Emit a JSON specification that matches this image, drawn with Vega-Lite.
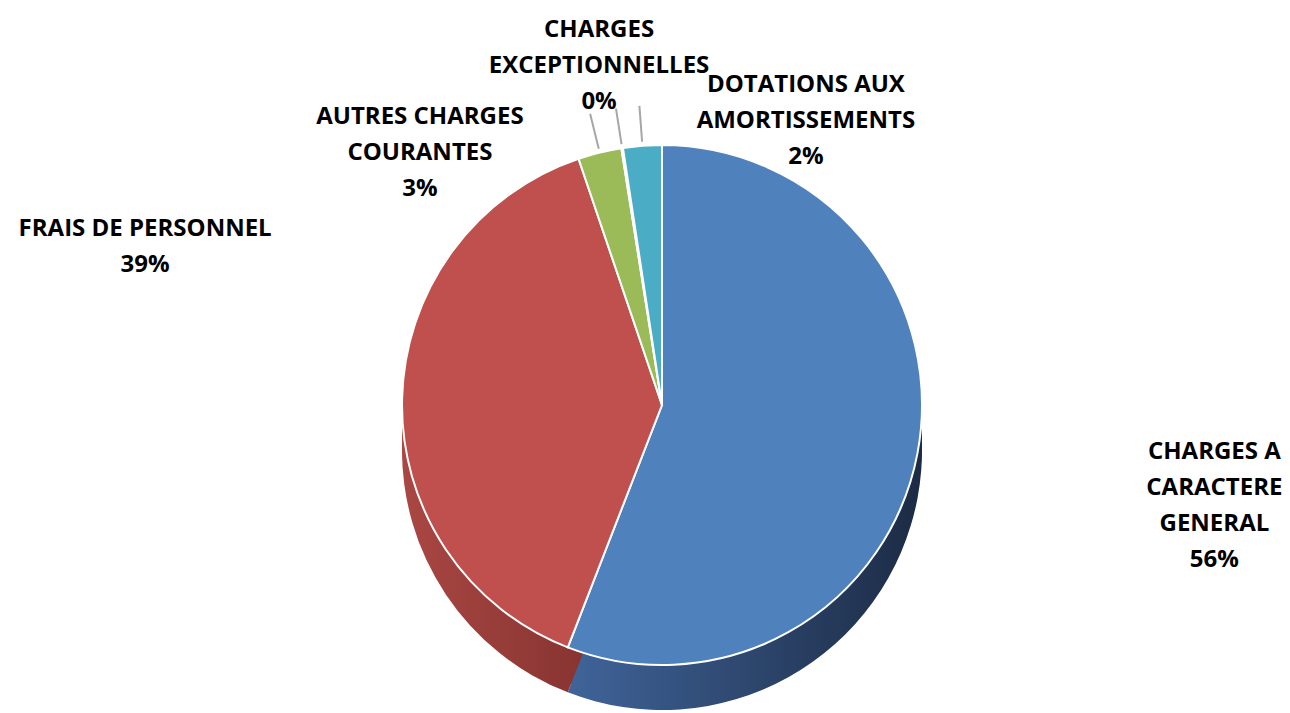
{
  "$schema": "https://vega.github.io/schema/vega-lite/v6.json",
  "width": 1256,
  "height": 616,
  "autosize": {"type": "none"},
  "padding": {"left": 34, "top": 97, "right": 0, "bottom": 0},
  "background": "white",
  "config": {"view": {"stroke": null}},
  "data": {
    "values": [
      {"categorie": "CHARGES A CARACTERE GENERAL", "label": "CHARGES A\nCARACTERE\nGENERAL\n56%", "pct": 55.9, "rank": 1},
      {"categorie": "FRAIS DE PERSONNEL", "label": "FRAIS DE PERSONNEL\n39%", "pct": 38.9, "rank": 2},
      {"categorie": "AUTRES CHARGES COURANTES", "label": "AUTRES CHARGES\nCOURANTES\n3%", "pct": 2.7, "rank": 3},
      {"categorie": "CHARGES EXCEPTIONNELLES", "label": "CHARGES\nEXCEPTIONNELLES\n0%", "pct": 0.1, "rank": 4},
      {"categorie": "DOTATIONS AUX AMORTISSEMENTS", "label": "DOTATIONS AUX\nAMORTISSEMENTS\n2%", "pct": 2.4, "rank": 5}
    ]
  },
  "transform": [
    {"stack": "pct", "groupby": [], "sort": [{"field": "rank"}], "as": ["t0", "t1"]},
    {"calculate": "(datum.t0 + datum.t1) / 2", "as": "tm"}
  ],
  "layer": [
    {
      "transform": [{"filter": "datum.rank == 1"}],
      "mark": {"type": "arc", "radius": 260, "yOffset": 45, "fill": {"gradient": "linear", "x1": 0, "y1": 0, "x2": 1, "y2": 0, "stops": [{"offset": 0, "color": "#40649A"}, {"offset": 1, "color": "#1C2B44"}]}},
      "encoding": {"theta": {"field": "t0", "type": "quantitative", "scale": {"domain": [0, 100]}}, "theta2": {"field": "t1"}}
    },
    {
      "transform": [{"filter": "datum.rank == 1"}],
      "mark": {"type": "arc", "radius": 260, "yOffset": 36, "fill": {"gradient": "linear", "x1": 0, "y1": 0, "x2": 1, "y2": 0, "stops": [{"offset": 0, "color": "#40649A"}, {"offset": 1, "color": "#1C2B44"}]}},
      "encoding": {"theta": {"field": "t0", "type": "quantitative", "scale": {"domain": [0, 100]}}, "theta2": {"field": "t1"}}
    },
    {
      "transform": [{"filter": "datum.rank == 1"}],
      "mark": {"type": "arc", "radius": 260, "yOffset": 27, "fill": {"gradient": "linear", "x1": 0, "y1": 0, "x2": 1, "y2": 0, "stops": [{"offset": 0, "color": "#40649A"}, {"offset": 1, "color": "#1C2B44"}]}},
      "encoding": {"theta": {"field": "t0", "type": "quantitative", "scale": {"domain": [0, 100]}}, "theta2": {"field": "t1"}}
    },
    {
      "transform": [{"filter": "datum.rank == 1"}],
      "mark": {"type": "arc", "radius": 260, "yOffset": 18, "fill": {"gradient": "linear", "x1": 0, "y1": 0, "x2": 1, "y2": 0, "stops": [{"offset": 0, "color": "#40649A"}, {"offset": 1, "color": "#1C2B44"}]}},
      "encoding": {"theta": {"field": "t0", "type": "quantitative", "scale": {"domain": [0, 100]}}, "theta2": {"field": "t1"}}
    },
    {
      "transform": [{"filter": "datum.rank == 1"}],
      "mark": {"type": "arc", "radius": 260, "yOffset": 9, "fill": {"gradient": "linear", "x1": 0, "y1": 0, "x2": 1, "y2": 0, "stops": [{"offset": 0, "color": "#40649A"}, {"offset": 1, "color": "#1C2B44"}]}},
      "encoding": {"theta": {"field": "t0", "type": "quantitative", "scale": {"domain": [0, 100]}}, "theta2": {"field": "t1"}}
    },
    {
      "transform": [{"filter": "datum.rank == 2"}],
      "mark": {"type": "arc", "radius": 260, "yOffset": 45, "fill": {"gradient": "linear", "x1": 0, "y1": 0, "x2": 1, "y2": 0, "stops": [{"offset": 0, "color": "#AA4743"}, {"offset": 0.7, "color": "#873431"}]}},
      "encoding": {"theta": {"field": "t0", "type": "quantitative", "scale": {"domain": [0, 100]}}, "theta2": {"field": "t1"}}
    },
    {
      "transform": [{"filter": "datum.rank == 2"}],
      "mark": {"type": "arc", "radius": 260, "yOffset": 36, "fill": {"gradient": "linear", "x1": 0, "y1": 0, "x2": 1, "y2": 0, "stops": [{"offset": 0, "color": "#AA4743"}, {"offset": 0.7, "color": "#873431"}]}},
      "encoding": {"theta": {"field": "t0", "type": "quantitative", "scale": {"domain": [0, 100]}}, "theta2": {"field": "t1"}}
    },
    {
      "transform": [{"filter": "datum.rank == 2"}],
      "mark": {"type": "arc", "radius": 260, "yOffset": 27, "fill": {"gradient": "linear", "x1": 0, "y1": 0, "x2": 1, "y2": 0, "stops": [{"offset": 0, "color": "#AA4743"}, {"offset": 0.7, "color": "#873431"}]}},
      "encoding": {"theta": {"field": "t0", "type": "quantitative", "scale": {"domain": [0, 100]}}, "theta2": {"field": "t1"}}
    },
    {
      "transform": [{"filter": "datum.rank == 2"}],
      "mark": {"type": "arc", "radius": 260, "yOffset": 18, "fill": {"gradient": "linear", "x1": 0, "y1": 0, "x2": 1, "y2": 0, "stops": [{"offset": 0, "color": "#AA4743"}, {"offset": 0.7, "color": "#873431"}]}},
      "encoding": {"theta": {"field": "t0", "type": "quantitative", "scale": {"domain": [0, 100]}}, "theta2": {"field": "t1"}}
    },
    {
      "transform": [{"filter": "datum.rank == 2"}],
      "mark": {"type": "arc", "radius": 260, "yOffset": 9, "fill": {"gradient": "linear", "x1": 0, "y1": 0, "x2": 1, "y2": 0, "stops": [{"offset": 0, "color": "#AA4743"}, {"offset": 0.7, "color": "#873431"}]}},
      "encoding": {"theta": {"field": "t0", "type": "quantitative", "scale": {"domain": [0, 100]}}, "theta2": {"field": "t1"}}
    },
    {
      "mark": {"type": "arc", "radius": 260, "stroke": "white", "strokeWidth": 2},
      "encoding": {
        "theta": {"field": "t0", "type": "quantitative", "scale": {"domain": [0, 100]}},
        "theta2": {"field": "t1"},
        "color": {
          "field": "categorie",
          "type": "nominal",
          "legend": null,
          "scale": {
            "domain": ["CHARGES A CARACTERE GENERAL", "FRAIS DE PERSONNEL", "AUTRES CHARGES COURANTES", "CHARGES EXCEPTIONNELLES", "DOTATIONS AUX AMORTISSEMENTS"],
            "range": ["#4F81BD", "#C0504D", "#9BBB59", "#8064A2", "#4BACC6"]
          }
        }
      }
    },
    {
      "transform": [{"filter": "datum.rank >= 3"}],
      "mark": {"type": "arc", "radius": 264, "radius2": 300, "stroke": "#A6A6A6", "strokeWidth": 2, "fill": null},
      "encoding": {"theta": {"field": "tm", "type": "quantitative", "scale": {"domain": [0, 100]}}, "theta2": {"field": "tm"}}
    },
    {
      "transform": [{"filter": "datum.rank == 1"}],
      "mark": {"type": "text", "radius": 562, "dy": -57, "font": "Open Sans", "fontWeight": "bold", "fontSize": 24, "lineHeight": 36, "lineBreak": "\n", "align": "center", "baseline": "middle", "color": "black"},
      "encoding": {"theta": {"field": "tm", "type": "quantitative", "scale": {"domain": [0, 100]}}, "text": {"field": "label"}}
    },
    {
      "transform": [{"filter": "datum.rank == 2"}],
      "mark": {"type": "text", "radius": 517, "dy": -165, "font": "Open Sans", "fontWeight": "bold", "fontSize": 24, "lineHeight": 36, "lineBreak": "\n", "align": "center", "baseline": "middle", "color": "black"},
      "encoding": {"theta": {"field": "tm", "type": "quantitative", "scale": {"domain": [0, 100]}}, "text": {"field": "label"}}
    },
    {
      "transform": [{"filter": "datum.rank == 3"}],
      "mark": {"type": "text", "radius": 280, "dx": -175, "dy": -16, "font": "Open Sans", "fontWeight": "bold", "fontSize": 24, "lineHeight": 36, "lineBreak": "\n", "align": "center", "baseline": "middle", "color": "black"},
      "encoding": {"theta": {"field": "tm", "type": "quantitative", "scale": {"domain": [0, 100]}}, "text": {"field": "label"}}
    },
    {
      "transform": [{"filter": "datum.rank == 4"}],
      "mark": {"type": "text", "radius": 280, "dx": -20, "dy": -98, "font": "Open Sans", "fontWeight": "bold", "fontSize": 24, "lineHeight": 36, "lineBreak": "\n", "align": "center", "baseline": "middle", "color": "black"},
      "encoding": {"theta": {"field": "tm", "type": "quantitative", "scale": {"domain": [0, 100]}}, "text": {"field": "label"}}
    },
    {
      "transform": [{"filter": "datum.rank == 5"}],
      "mark": {"type": "text", "radius": 280, "dx": 165, "dy": -41, "font": "Open Sans", "fontWeight": "bold", "fontSize": 24, "lineHeight": 36, "lineBreak": "\n", "align": "center", "baseline": "middle", "color": "black"},
      "encoding": {"theta": {"field": "tm", "type": "quantitative", "scale": {"domain": [0, 100]}}, "text": {"field": "label"}}
    }
  ]
}
